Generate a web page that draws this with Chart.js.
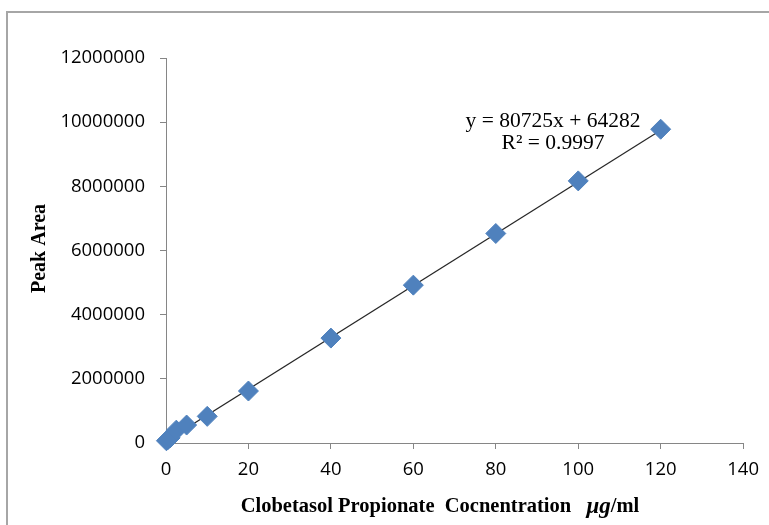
<!DOCTYPE html>
<html>
<head>
<meta charset="utf-8">
<script src="https://cdn.jsdelivr.net/npm/chart.js@4"></script>
<style>
  html, body { margin: 0; padding: 0; background: #fff; }
  #wrap { position: relative; width: 769px; height: 525px; overflow: hidden; }
  #frame { position: absolute; left: 6px; top: 11px; width: 800px; height: 600px;
           border: 2px solid #a6a6a6; box-sizing: border-box; }
  canvas { position: absolute; left: 0; top: 0; }
</style>
</head>
<body>
<div id="wrap">
  <div id="frame"></div>
  <canvas id="chart" width="769" height="525"></canvas>
</div>
<script>
// Calibration data: concentration (µg/ml) vs peak area
const concentrations = [0.1, 0.5, 1, 2.5, 5, 10, 20, 40, 60, 80, 100, 120];
const peakAreas = [70000, 110000, 160000, 400000, 560000, 830000, 1620000, 3270000, 4920000, 6530000, 8170000, 9780000];

// Linear fit reported on the chart
const SLOPE = 80725;
const INTERCEPT = 64282;
const FIT_RANGE = [0, 120];
const EQUATION = "y = 80725x + 64282";
const R_SQUARED = "R² = 0.9997";

const AXIS_COLOR = "#868686";
const MARKER_COLOR = "#4f81bd";
const TICK_FONT = { family: "'Open Sans', sans-serif", size: 18.5 };
const SERIF = "'Liberation Serif', serif";

const points = concentrations.map((x, i) => ({ x, y: peakAreas[i] }));
const fitLine = FIT_RANGE.map((x) => ({ x, y: SLOPE * x + INTERCEPT }));

// draws axis titles (with mixed italic unit) and the equation
const annotations = {
  id: "annotations",
  afterDraw(chart) {
    const { ctx, chartArea } = chart;
    ctx.save();
    ctx.fillStyle = "#000";
    ctx.textBaseline = "middle";

    // equation
    ctx.font = `21.5px ${SERIF}`;
    ctx.textAlign = "center";
    ctx.fillText(EQUATION, 553, 121);
    ctx.fillText(R_SQUARED, 553, 143);

    // y title
    ctx.font = `bold 20px ${SERIF}`;
    ctx.translate(40, (chartArea.top + chartArea.bottom) / 2 - 2);
    ctx.rotate(-Math.PI / 2);
    ctx.fillText("Peak Area", 0, 0);
    ctx.setTransform(1, 0, 0, 1, 0, 0);

    // x title: bold serif + italic unit
    const parts = [
      { t: "Clobetasol Propionate  Cocnentration   ", f: `bold 20.5px ${SERIF}` },
      { t: "μg", f: `italic bold 23px ${SERIF}` },
      { t: "/ml", f: `bold 20.5px ${SERIF}` },
    ];
    let total = 0;
    parts.forEach((p) => { ctx.font = p.f; p.w = ctx.measureText(p.t).width; total += p.w; });
    let x = 440 - total / 2;
    ctx.textAlign = "left";
    parts.forEach((p) => { ctx.font = p.f; ctx.fillText(p.t, x, 507); x += p.w; });
    ctx.restore();
  },
};

new Chart(document.getElementById("chart"), {
  type: "scatter",
  data: {
    datasets: [
      {
        type: "line",
        data: fitLine,
        borderColor: "#262626",
        borderWidth: 1.2,
        pointRadius: 0,
        fill: false,
        order: 2,
      },
      {
        data: points,
        pointStyle: "rectRot",
        pointRadius: 10,
        pointHoverRadius: 10,
        backgroundColor: MARKER_COLOR,
        borderColor: MARKER_COLOR,
        borderWidth: 1,
        clip: false,
        order: 1,
      },
    ],
  },
  options: {
    responsive: false,
    animation: false,
    layout: { padding: { left: 50, top: 58, right: 22, bottom: 42 } },
    plugins: { legend: { display: false }, tooltip: { enabled: false } },
    scales: {
      x: {
        type: "linear",
        min: 0,
        max: 140,
        ticks: { stepSize: 20, color: "#000", font: TICK_FONT, padding: 10 },
        grid: { drawOnChartArea: false, color: AXIS_COLOR, tickLength: 6 },
        border: { color: AXIS_COLOR },
        afterFit: (s) => { s.height = 40; },
      },
      y: {
        min: 0,
        max: 12000000,
        ticks: { stepSize: 2000000, color: "#000", font: TICK_FONT, padding: 15, callback: (v) => String(v) },
        grid: { drawOnChartArea: false, color: AXIS_COLOR, tickLength: 6 },
        border: { color: AXIS_COLOR },
        afterFit: (s) => { s.width = 116; },
      },
    },
  },
  plugins: [annotations],
});
</script>
</body>
</html>
